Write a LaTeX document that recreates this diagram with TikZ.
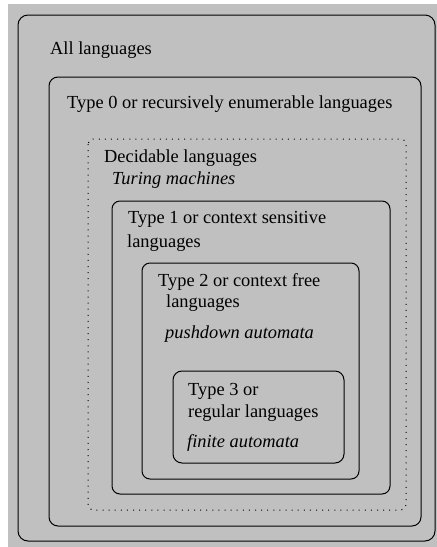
\documentclass[tikz,border=0pt]{standalone}
\usepackage{fontspec}
\setmainfont{Liberation Serif}
\begin{document}
\begin{tikzpicture}[x=1pt,y=-1pt,
  langbox/.style={draw=black, line width=1pt, inner sep=0pt},
  lbl/.style={anchor=base west, inner sep=0pt, font=\fontsize{18.4}{22}\selectfont},
  ilbl/.style={lbl, font=\fontsize{18.4}{22}\selectfont\itshape}]
\useasboundingbox (0,0) rectangle (437,547);
\fill[fill={rgb,255:red,192;green,192;blue,192}] (8,4) rectangle (437,547);
% boxes
\draw[langbox, rounded corners=10pt] (18,15) rectangle (435,541);
\draw[langbox, rounded corners=9pt] (49,77) rectangle (421,526);
\draw[langbox, line width=1pt, dash pattern=on 1pt off 5.1pt, rounded corners=5pt] (88,139) rectangle (406,510);
\draw[langbox, rounded corners=8pt] (112,201) rectangle (390,494);
\draw[langbox, rounded corners=8pt] (142,263) rectangle (359,479);
\draw[langbox, rounded corners=9pt] (173,371) rectangle (344,463);
% labels
\node[lbl] (all) at (50,54) {All languages};
\node[lbl] (t0) at (67,108) {Type 0 or recursively enumerable languages};
\node[lbl] (dec) at (104,162) {Decidable languages};
\node[ilbl] (tm) at (112,184) {Turing machines};
\node[lbl] (t1a) at (128,223) {Type 1 or context sensitive};
\node[lbl] (t1b) at (127,247) {languages};
\node[lbl] (t2a) at (158,286) {Type 2 or context free};
\node[lbl] (t2b) at (166,307) {languages};
\node[ilbl] (pda) at (165,338) {pushdown automata};
\node[lbl] (t3a) at (188,395) {Type 3 or};
\node[lbl] (t3b) at (188,417) {regular languages};
\node[ilbl] (fa) at (187,447) {finite automata};
\end{tikzpicture}
\end{document}
